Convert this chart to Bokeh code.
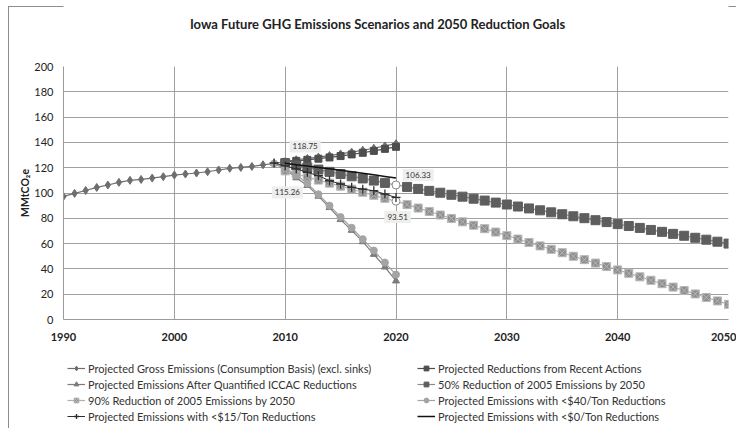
from bokeh.plotting import figure
from bokeh.layouts import column
from bokeh.models import Legend, LegendItem, Label, Range1d, FixedTicker, ColumnDataSource
from bokeh.embed import file_html
from bokeh.resources import INLINE

TITLE = "Iowa Future GHG Emissions Scenarios and 2050 Reduction Goals"
Y_LABEL = "MMtCO\u2082e"

gross_years = list(range(1990, 2021))
gross = [97.3, 99.7, 102.0, 104.4, 106.3, 108.4, 110.0, 110.7, 111.8, 112.9,
         114.2, 115.0, 115.8, 116.8, 118.2, 119.5, 120.2, 121.0, 122.3, 123.3,
         124.9, 126.3, 127.3, 128.4, 129.6, 130.9, 132.3, 133.8, 135.4, 137.2, 139.0]

recent_years = list(range(2010, 2021))
recent = [124.5, 125.4, 126.2, 127.1, 128.1, 129.2, 130.5, 131.8, 133.3, 134.9, 136.5]

iccac_years = list(range(2009, 2021))
iccac = [123.3, 119.0, 112.0, 106.0, 97.5, 88.5, 79.0, 70.5, 61.5, 51.5, 41.5, 30.5]

goal50_years = list(range(2010, 2051))
goal50 = [123.5, 121.8, 120.1, 118.5, 116.7, 115.0, 113.2, 111.5, 109.8, 108.0, 106.33,
          104.8, 103.2, 101.7, 100.2, 98.6, 97.1, 95.5, 94.0, 92.4, 90.9,
          89.3, 87.8, 86.3, 84.7, 83.2, 81.6, 80.1, 78.5, 77.0, 75.4,
          73.9, 72.4, 70.8, 69.3, 67.7, 66.2, 64.6, 63.1, 61.5, 60.0]

goal90_years = list(range(2010, 2051))
goal90 = [117.5, 115.0, 112.6, 110.2, 107.8, 105.4, 103.0, 100.6, 98.2, 95.8, 93.51,
          90.8, 88.1, 85.4, 82.6, 79.9, 77.2, 74.5, 71.8, 69.1, 66.3,
          63.6, 60.9, 58.2, 55.5, 52.8, 50.0, 47.3, 44.6, 41.9, 39.2,
          36.5, 33.7, 31.0, 28.3, 25.6, 22.9, 20.2, 17.4, 14.7, 12.0]

ton40_years = list(range(2009, 2021))
ton40 = [123.3, 119.5, 114.5, 107.5, 99.0, 90.0, 81.0, 72.5, 63.5, 54.5, 45.0, 35.5]

ton15_years = list(range(2009, 2021))
ton15 = [123.7, 121.4, 119.0, 116.3, 113.7, 109.7, 107.1, 104.5, 103.0, 101.8, 99.2, 96.5]

ton0_years = list(range(2010, 2021))
ton0 = [123.5, 122.4, 121.3, 120.2, 119.1, 118.0, 116.8, 115.6, 114.4, 113.1, 111.8]

goal_mark_year = 2020   # year whose goal point is drawn as an open circle

label_texts = ["118.75", "115.26", "106.33", "93.51"]
label_x = [2011.8, 2010.2, 2022.0, 2020.15]
label_y = [136.8, 100.4, 114.2, 81.0]

names = [
    "Projected Gross Emissions (Consumption Basis) (excl. sinks)",
    "Projected Reductions from Recent Actions",
    "Projected Emissions After Quantified ICCAC Reductions",
    "50% Reduction of 2005 Emissions by 2050",
    "90% Reduction of 2005 Emissions by 2050",
    "Projected Emissions with <$40/Ton Reductions",
    "Projected Emissions with <$15/Ton Reductions",
    "Projected Emissions with <$0/Ton Reductions",
]

x_ticks = [1990, 2000, 2010, 2020, 2030, 2040, 2050]
y_ticks = [0, 20, 40, 60, 80, 100, 120, 140, 160, 180, 200]

FONT = "Lato"
W = 736
FRAME_L, FRAME_R = 63, 728   # page x of the plotting area (frames are aligned in the column)


def bare(height, yr):
    f = figure(width=W, height=height, output_backend="svg", toolbar_location=None,
               x_range=Range1d(FRAME_L, FRAME_R), y_range=yr,
               x_axis_type=None, y_axis_type=None,
               min_border_left=FRAME_L, min_border_right=W - FRAME_R,
               min_border_top=0, min_border_bottom=0)
    f.outline_line_color = None
    f.xgrid.visible = False
    f.ygrid.visible = False
    f.background_fill_color = "white"
    f.border_fill_alpha = 0
    return f


# ---- title strip ----
head = bare(40, Range1d(0, 40))
head.add_layout(Label(x=377, y=17, text=TITLE, text_align="center", text_baseline="middle",
                      text_font=FONT, text_font_size="13px", text_font_style="bold",
                      text_color="#222222"))

# ---- main chart ----
p = figure(width=W, height=315, output_backend="svg", toolbar_location=None,
           x_range=Range1d(1990, 2050), y_range=Range1d(0, 200),
           min_border_left=FRAME_L, min_border_right=W - FRAME_R,
           min_border_top=26, min_border_bottom=36)
p.outline_line_color = None
p.background_fill_color = "white"
p.border_fill_alpha = 0

for ax in (p.xaxis[0], p.yaxis[0]):
    ax.axis_line_color = "#9a9a9a"
    ax.major_tick_line_color = None
    ax.minor_tick_line_color = None
    ax.major_tick_out = 0
    ax.major_tick_in = 0
    ax.minor_tick_out = 0
    ax.minor_tick_in = 0
    ax.major_label_text_font = FONT
    ax.major_label_text_color = "#222222"

p.xaxis[0].ticker = FixedTicker(ticks=x_ticks)
p.yaxis[0].ticker = FixedTicker(ticks=y_ticks)
p.xaxis[0].major_label_text_font_style = "bold"
p.xaxis[0].major_label_text_font_size = "11px"
p.xaxis[0].major_label_standoff = 13
p.yaxis[0].major_label_text_font_size = "11px"
p.yaxis[0].major_label_standoff = 10
p.yaxis[0].axis_label = Y_LABEL
p.yaxis[0].axis_label_text_font = FONT
p.yaxis[0].axis_label_text_font_size = "10.5px"
p.yaxis[0].axis_label_text_font_style = "bold"
p.yaxis[0].axis_label_text_color = "#222222"
p.yaxis[0].axis_label_standoff = 0

p.xgrid[0].ticker = FixedTicker(ticks=x_ticks)
p.ygrid[0].ticker = FixedTicker(ticks=y_ticks)
p.xgrid[0].grid_line_color = "#a0a0a0"
p.ygrid[0].grid_line_color = "#a0a0a0"

# (x, y, marker, size, fill, marker line, line colour, line width, open circle at goal year)
specs = [
    (gross_years, gross, "diamond", 8, "#6e6e6e", "#6e6e6e", "#6e6e6e", 1.2, False),
    (recent_years, recent, "square", 7, "#4e4e4e", "#4e4e4e", "#4e4e4e", 1.2, False),
    (iccac_years, iccac, "triangle", 7, "#7c7c7c", "#7c7c7c", "#7c7c7c", 1.2, False),
    (goal50_years, goal50, "square", 9, "#5e5e5e", "#5e5e5e", "#8a8a8a", 1.2, True),
    (goal90_years, goal90, "square_x", 8, "#8e8e8e", "#b8b8b8", "#b0b0b0", 1.2, True),
    (ton40_years, ton40, "circle", 7, "#a4a4a4", "#a4a4a4", "#a4a4a4", 1.2, False),
    (ton15_years, ton15, "cross", 9, None, "#2e2e2e", "#2e2e2e", 1.0, False),
    (ton0_years, ton0, None, 0, None, None, "#111111", 1.5, False),
]


def draw(fig, xs, ys, marker, size, fill, mline, lcolor, lw, goal_circle):
    rs = [fig.line(xs, ys, line_color=lcolor, line_width=lw)]
    if marker is not None:
        goal = [goal_circle and x == goal_mark_year for x in xs]
        src = ColumnDataSource(dict(
            x=xs, y=ys,
            marker=["circle" if g else marker for g in goal],
            size=[8 if g else size for g in goal],
            fill=["white" if g else (fill if fill else "white") for g in goal],
            falpha=[1 if (g or fill) else 0 for g in goal],
            mline=["#8a8a8a" if g else mline for g in goal],
        ))
        rs.append(fig.scatter("x", "y", source=src, marker="marker", size="size",
                              fill_color="fill", fill_alpha="falpha", line_color="mline",
                              line_width=1.3 if marker == "cross" else 1))
    return rs


for spec in specs:
    draw(p, *spec)

for t, lx, ly in zip(label_texts, label_x, label_y):
    p.add_layout(Label(x=lx, y=ly, text=t, text_align="center", text_baseline="middle",
                       text_font=FONT, text_font_size="8px", text_color="#333333",
                       background_fill_color="#eeeeee", padding=3))

# ---- legend strip (its own copies of the series, lying outside its visible range) ----
leg = bare(73, Range1d(0, 73))
items = []
for spec, name in zip(specs, names):
    rs = draw(leg, *spec)
    items.append(LegendItem(label=name, renderers=rs, index=0))

col1 = [items[0], items[2], items[4], items[6]]
col2 = [items[1], items[3], items[5], items[7]]
for col, x0 in ((col1, 67 - FRAME_L), (col2, 417 - FRAME_L)):
    lg = Legend(items=col, location=(x0, 4), orientation="vertical",
                label_text_font=FONT, label_text_font_size="11px",
                label_text_color="#333333", label_height=16, glyph_height=12,
                glyph_width=18, label_standoff=3, spacing=0,
                padding=0, margin=0, border_line_alpha=0, background_fill_alpha=0)
    leg.add_layout(lg, "center")

page = column(head, p, leg, spacing=0)
# thin grey chart-area border along the top and left edges, as in the reference
page.styles = {
    "background": ("linear-gradient(#8c8c8c, #8c8c8c) 8px 6px / 730px 1px no-repeat, "
                   "linear-gradient(#8c8c8c, #8c8c8c) 8px 6px / 1px 430px no-repeat, white"),
}
open("out.html", "w").write(file_html(page, INLINE))
